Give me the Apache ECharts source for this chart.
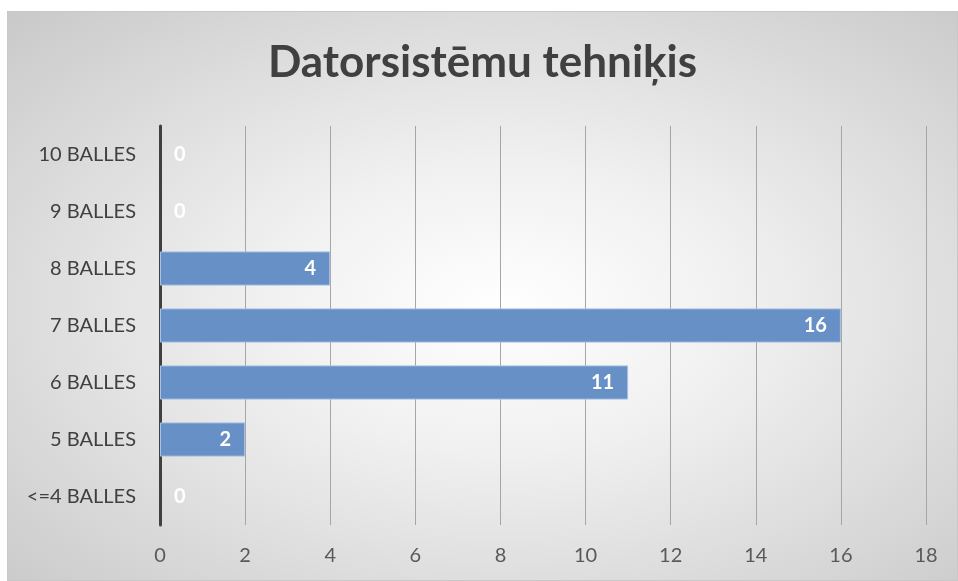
<!DOCTYPE html>
<html>
<head>
<meta charset="utf-8">
<script src="https://cdn.jsdelivr.net/npm/echarts@6/dist/echarts.min.js"></script>
<style>
  html, body { margin: 0; padding: 0; background: #ffffff; }
  #chart {
    position: absolute; left: 7px; top: 11px; width: 951px; height: 570px;
    box-sizing: border-box; border: 1px solid #c8c8c8;
    background: radial-gradient(ellipse at 52% 52%, #ffffff 0%, #f0f0f0 35%, #c9c9c9 100%);
  }
</style>
</head>
<body>
<div id="chart"></div>
<script>
// categories bottom -> top
const categories = ['<=4 BALLES', '5 BALLES', '6 BALLES', '7 BALLES', '8 BALLES', '9 BALLES', '10 BALLES']
const values = [0, 2, 11, 16, 4, 0, 0]
const xTicks = [0, 2, 4, 6, 8, 10, 12, 14, 16, 18]

const font = 'Lato, "Open Sans", sans-serif'

const chart = echarts.init(document.getElementById('chart'), null, { renderer: 'canvas' })

// zero bars: no outline, label just right of the axis
const barData = values.map(v => (v === 0
  ? { value: v, itemStyle: { borderWidth: 0 }, label: { position: 'right', distance: 14 } }
  : { value: v, label: { position: 'insideRight', distance: 14 } }))

chart.setOption({
  backgroundColor: 'transparent',
  animation: false,
  title: {
    text: 'Datorsistēmu tehniķis',
    left: 'center',
    top: 24,
    textStyle: { fontFamily: font, fontSize: 44, fontWeight: 'bold', color: '#404040' }
  },
  grid: { left: 152, right: 31, top: 114, bottom: 55 },
  xAxis: {
    type: 'value',
    min: xTicks[0],
    max: xTicks[xTicks.length - 1],
    interval: 2,
    axisLine: { show: false },
    axisTick: { show: false },
    axisLabel: { color: '#595959', fontFamily: font, fontSize: 20, margin: 21 },
    splitLine: { lineStyle: { color: '#a6a6a6', width: 1 } }
  },
  yAxis: {
    type: 'category',
    data: categories,
    axisLine: { lineStyle: { color: '#404040', width: 3 } },
    axisTick: { show: false },
    axisLabel: { color: '#404040', fontFamily: font, fontSize: 20, margin: 24 }
  },
  series: [{
    type: 'bar',
    data: barData,
    barCategoryGap: '40%',
    itemStyle: { color: '#6690c6', borderColor: '#a9c1e2', borderWidth: 1 },
    label: {
      show: true,
      color: '#ffffff',
      fontFamily: font,
      fontSize: 20,
      fontWeight: 'bold'
    }
  }]
})
</script>
</body>
</html>
